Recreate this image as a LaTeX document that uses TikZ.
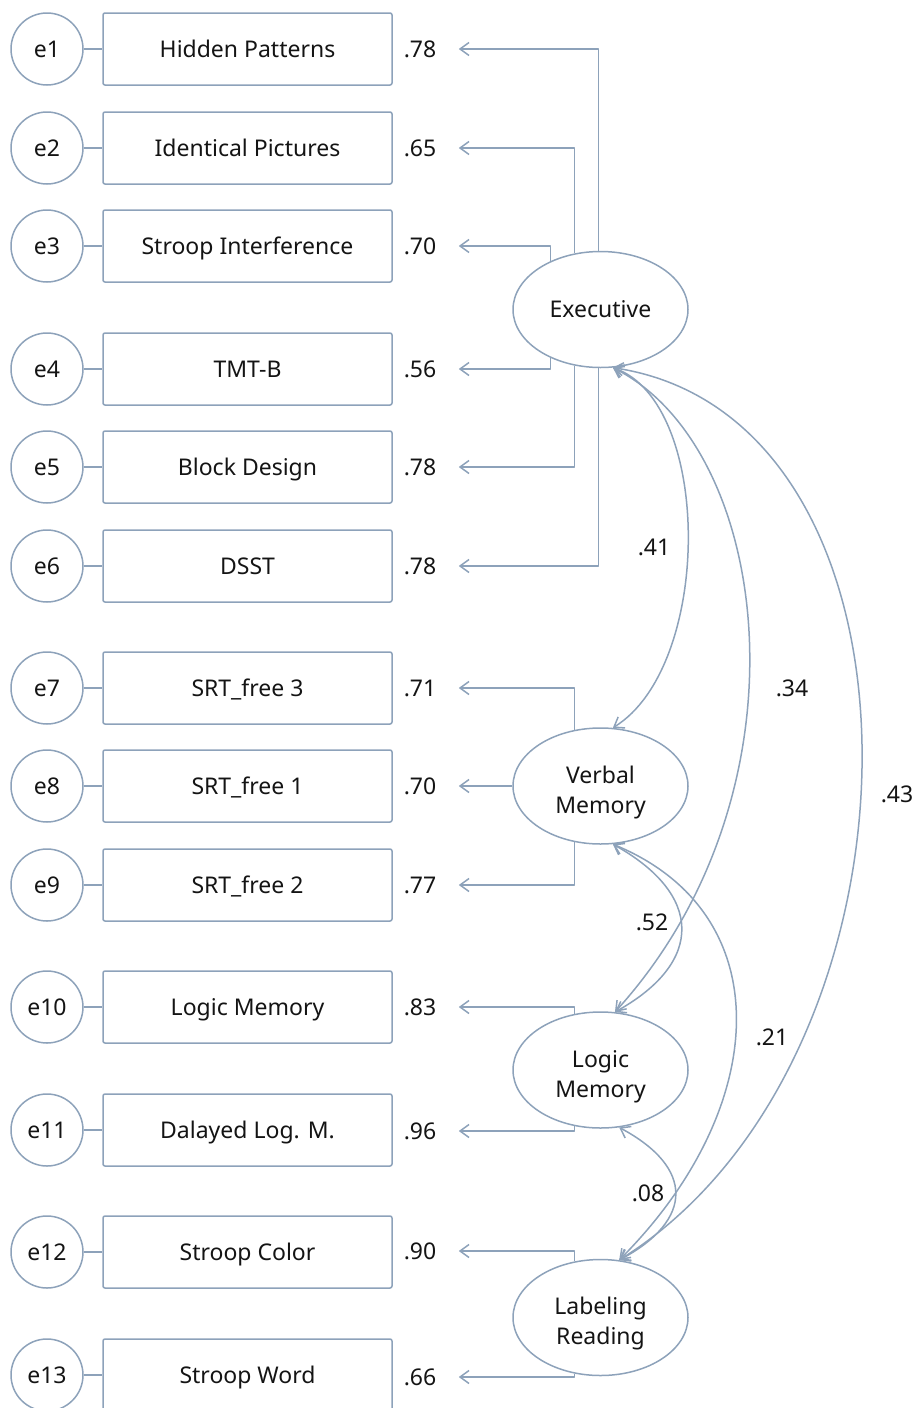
\documentclass[tikz,border=0pt]{standalone}
\usepackage{fontspec}
\setmainfont{Noto Sans}
\usetikzlibrary{shapes.geometric,arrows.meta}
\definecolor{edge}{HTML}{8DA2BA}
\definecolor{ink}{HTML}{141414}

\begin{document}
\begin{tikzpicture}[x=1pt, y=-1pt, line width=1.5pt, line join=round,
  font=\fontsize{23}{30}\selectfont, text=ink,
  err/.style={circle, draw=edge, minimum size=72pt, inner sep=0pt, text height=22pt, text depth=5pt},
  obs/.style={rectangle, rounded corners=2pt, draw=edge, minimum width=289pt, minimum height=72pt, inner sep=0pt, text height=22pt, text depth=5pt},
  lat/.style={ellipse, draw=edge, minimum width=175pt, minimum height=116pt, inner sep=0pt, align=center},
  lat2/.style={lat, text height=60pt},
  est/.style={minimum width=76pt, inner sep=0pt, text height=22pt, text depth=5pt},
  link/.style={draw=edge},
  load/.style={draw=edge, -{Straight Barb[length=9pt,width=13pt]}},
  cov/.style={draw=edge, {Straight Barb[length=9pt,width=13pt]}-{Straight Barb[length=9pt,width=13pt]}}]

  %% ════ 误差项 + 观测变量 + 载荷 ════
  \node[err] (e1)  at (47,49)   {e1};   \node[obs] (o1)  at (247.5,49)   {Hidden Patterns};     \node[est] (l1)  at (420,49)   {.78};
  \node[err] (e2)  at (47,148)  {e2};   \node[obs] (o2)  at (247.5,148)  {Identical Pictures};  \node[est] (l2)  at (420,148)  {.65};
  \node[err] (e3)  at (47,246)  {e3};   \node[obs] (o3)  at (247.5,246)  {Stroop Interference}; \node[est] (l3)  at (420,246)  {.70};
  \node[err] (e4)  at (47,369)  {e4};   \node[obs] (o4)  at (247.5,369)  {TMT-B};               \node[est] (l4)  at (420,369)  {.56};
  \node[err] (e5)  at (47,467)  {e5};   \node[obs] (o5)  at (247.5,467)  {Block Design};        \node[est] (l5)  at (420,467)  {.78};
  \node[err] (e6)  at (47,566)  {e6};   \node[obs] (o6)  at (247.5,566)  {DSST};                \node[est] (l6)  at (420,566)  {.78};
  \node[err] (e7)  at (47,688)  {e7};   \node[obs] (o7)  at (247.5,688)  {SRT\_free 3};         \node[est] (l7)  at (420,688)  {.71};
  \node[err] (e8)  at (47,786)  {e8};   \node[obs] (o8)  at (247.5,786)  {SRT\_free 1};         \node[est] (l8)  at (420,786)  {.70};
  \node[err] (e9)  at (47,885)  {e9};   \node[obs] (o9)  at (247.5,885)  {SRT\_free 2};         \node[est] (l9)  at (420,885)  {.77};
  \node[err] (e10) at (47,1007) {e10};  \node[obs] (o10) at (247.5,1007) {Logic Memory};        \node[est] (l10) at (420,1007) {.83};
  \node[err] (e11) at (47,1130) {e11};  \node[obs] (o11) at (247.5,1130) {Dalayed Log. M.};     \node[est] (l11) at (420,1131) {.96};
  \node[err] (e12) at (47,1252) {e12};  \node[obs] (o12) at (247.5,1252) {Stroop Color};        \node[est] (l12) at (420,1251) {.90};
  \node[err] (e13) at (47,1375) {e13};  \node[obs] (o13) at (247.5,1375) {Stroop Word};         \node[est] (l13) at (420,1377) {.66};

  \draw[link] (e1) -- (o1);   \draw[link] (e2) -- (o2);   \draw[link] (e3) -- (o3);
  \draw[link] (e4) -- (o4);   \draw[link] (e5) -- (o5);   \draw[link] (e6) -- (o6);
  \draw[link] (e7) -- (o7);   \draw[link] (e8) -- (o8);   \draw[link] (e9) -- (o9);
  \draw[link] (e10) -- (o10); \draw[link] (e11) -- (o11); \draw[link] (e12) -- (o12);
  \draw[link] (e13) -- (o13);

  %% ════ 潜变量 ════
  \node[lat]  (exec)   at (600.5,309.5)  {Executive};
  \node[lat2] (verbal) at (600.5,786)    {Verbal\\Memory};
  \node[lat2] (logic)  at (600.5,1070)   {Logic\\Memory};
  \node[lat2] (read)   at (600.5,1317.5) {Labeling\\Reading};

  %% ════ 载荷路径（折线）════
  \draw[load] (exec.92)    |- (l1.east);
  \draw[load] (exec.115)   |- (l2.east);
  \draw[load] (exec.136)   |- (l3.east);
  \draw[load] (exec.-136)  |- (l4.east);
  \draw[load] (exec.-115)  |- (l5.east);
  \draw[load] (exec.-92)   |- (l6.east);
  \draw[load] (verbal.115) |- (l7.east);
  \draw[load] (verbal.west) -- (l8.east);
  \draw[load] (verbal.-115) |- (l9.east);
  \draw[load] (logic.115)  |- (l10.east);
  \draw[load] (logic.-115) |- (l11.east);
  \draw[load] (read.115)   |- (l12.east);
  \draw[load] (read.-115)  |- (l13.east);

  %% ════ 协方差（双向弧线）════
  \draw[cov] (exec.-78)   .. controls +(100,35)  and +(100,-62)  .. (verbal.78);
  \draw[cov] (exec.-78)   .. controls +(160,80)  and +(200,-220) .. (logic.76);
  \draw[cov] (exec.-78)   .. controls +(335,50)  and +(320,-200) .. (read.72);
  \draw[cov] (verbal.-78) .. controls +(90,50)   and +(90,-50)   .. (logic.76);
  \draw[cov] (verbal.-78) .. controls +(170,70)  and +(150,-150) .. (read.72);
  \draw[cov] (logic.-72)  .. controls +(75,40)   and +(75,-40)   .. (read.72);

  \node (c41) at (654,547)  {.41};
  \node (c34) at (792,688)  {.34};
  \node (c43) at (897,794)  {.43};
  \node (c52) at (652,922)  {.52};
  \node (c21) at (772,1037) {.21};
  \node (c08) at (648,1193) {.08};

  % 固定画布
  \pgfresetboundingbox
  \path[use as bounding box] (0,0) rectangle (918,1408);
\end{tikzpicture}
\end{document}
